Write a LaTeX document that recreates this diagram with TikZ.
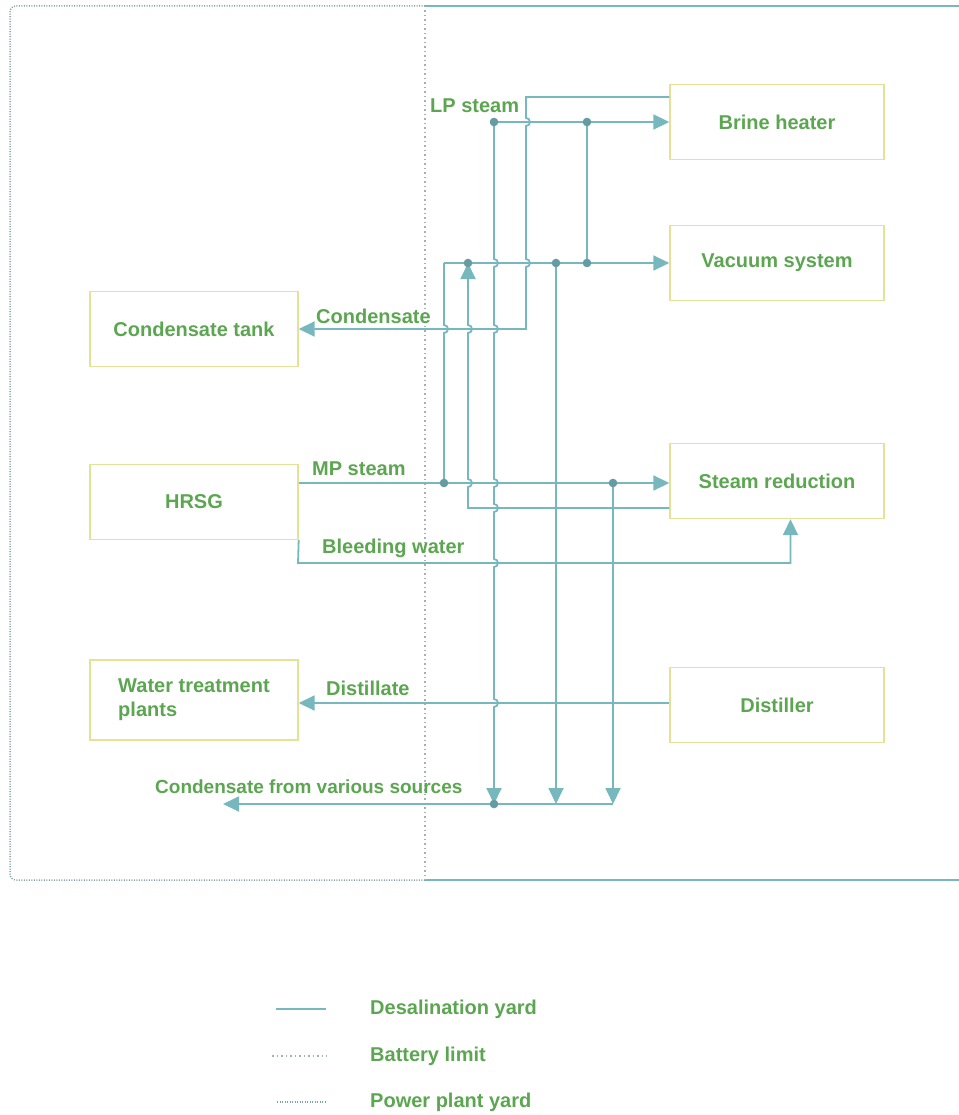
\documentclass[tikz,border=0pt]{standalone}
\usepackage{fontspec}
\setmainfont{Liberation Sans}
\usetikzlibrary{arrows.meta}
\definecolor{ln}{RGB}{118,184,190}
\definecolor{tx}{RGB}{92,166,82}
\definecolor{bx}{RGB}{228,226,150}
\definecolor{dotc}{RGB}{130,160,166}
\definecolor{blc}{RGB}{165,175,180}
\newcommand{\hd}[2]{-- (#1,#2-4) arc[start angle=90,end angle=-90,radius=4pt]}
\newcommand{\hu}[2]{-- (#1,#2+4) arc[start angle=-90,end angle=90,radius=4pt]}
\begin{document}
\begin{tikzpicture}[x=1pt,y=-1pt,
  flow/.style={draw=ln,line width=1.8pt},
  arr/.style={flow,-{Triangle[length=16pt,width=15pt]}},
  box/.style={draw=bx,line width=1.4pt,fill=white,minimum width=214pt,minimum height=75pt,inner sep=0pt,font=\fontsize{20}{24}\selectfont\bfseries,text=tx},
  lbl/.style={font=\fontsize{20}{24}\selectfont\bfseries,text=tx,inner sep=0pt,anchor=base west},
  jn/.style={fill=ln!85!black}]
\fill[white] (0,0) rectangle (958,1115);
\useasboundingbox (0,0) rectangle (958,1115);
% frame
\draw[draw=dotc,line width=1.5pt,dash pattern=on 1pt off 1.5pt,rounded corners=6pt] (425,6) -- (10,6) -- (10,880) -- (425,880);
\draw[draw=ln,line width=1.3pt] (425,6) -- (962,6) (425,880) -- (962,880);
\draw[draw=blc,line width=1.3pt,dash pattern=on 1.5pt off 3pt] (425,6) -- (425,880);
% boxes
\node[box] (bh) at (777,122) {Brine heater};
\node[box] (vs) at (777,263) {Vacuum system};
\node[box] (sr) at (777,481) {Steam reduction};
\node[box] (di) at (777,705) {Distiller};
\node[box,minimum width=208pt] (ct) at (194,329) {Condensate tank};
\node[box,minimum width=208pt] (hr) at (194,502) {HRSG};
\node[box,minimum width=208pt,minimum height=80pt,align=left] (wt) at (194,700) {Water treatment\\plants};
% junctions
\coordinate (a1) at (494,122);
\coordinate (a2) at (587,122);
\coordinate (b1) at (468,263);
\coordinate (b2) at (556,263);
\coordinate (b3) at (587,263);
\coordinate (c1) at (444,483);
\coordinate (c2) at (613,483);
\coordinate (d1) at (494,804);
\coordinate (d2) at (556,804);
\coordinate (d3) at (613,804);
\coordinate (cvend) at (223,804);
% connectors
\draw[arr] ([yshift=25pt]bh.west) -- (526,97) \hd{526}{122} \hd{526}{263} -- (526,329) -- (ct.east);
\draw[arr] (a1) -- (bh.west);
\draw[arr] (a1) \hd{494}{263} \hd{494}{329} \hd{494}{483} \hd{494}{508} \hd{494}{563} \hd{494}{703} -- (d1);
\draw[flow] (a2) -- (b3);
\draw[arr] (444,263) -- (vs.west);
\draw[flow] (444,263) \hd{444}{329} -- (c1);
\draw[arr] ([yshift=19pt]hr.east) -- ([yshift=-2pt]sr.west);
\draw[arr] ([yshift=-27pt]sr.west) -- (468,508) \hu{468}{483} \hu{468}{329} -- (b1);
\draw[arr] (b2) -- (d2);
\draw[arr] (c2) -- (d3);
\draw[arr] (d3) -- (cvend);
\draw[arr] (hr.south east) -- (298,563) -- (790.5,563) -- ([xshift=13.5pt]sr.south);
\draw[arr] ([yshift=2pt]di.west) -- ([yshift=-3pt]wt.east);
% dots
\foreach \p in {a1,a2,b1,b2,b3,c1,c2,d1} \fill[jn] (\p) circle[radius=4.3pt];
% labels
\node[lbl] (lp) at (430,113) {LP steam};
\node[lbl] (cl) at (316,323) {Condensate};
\node[lbl] (mp) at (312,475) {MP steam};
\node[lbl] (bw) at (322,553) {Bleeding water};
\node[lbl] (dl) at (326,695) {Distillate};
\node[lbl,font=\fontsize{19}{23}\selectfont\bfseries] (cv) at (155,793) {Condensate from various sources};
% legend
\draw[flow,line width=1.3pt] (276,1009) -- (326,1009);
\draw[draw=blc,line width=1.3pt,dash pattern=on 1.5pt off 3pt] (272,1056) -- (327,1056);
\draw[draw=dotc,line width=1.3pt,dash pattern=on 1pt off 1.5pt] (277,1102) -- (327,1102);
\node[lbl] (lg1) at (370,1014) {Desalination yard};
\node[lbl] (lg2) at (370,1061) {Battery limit};
\node[lbl] (lg3) at (370,1107) {Power plant yard};
\end{tikzpicture}
\end{document}
